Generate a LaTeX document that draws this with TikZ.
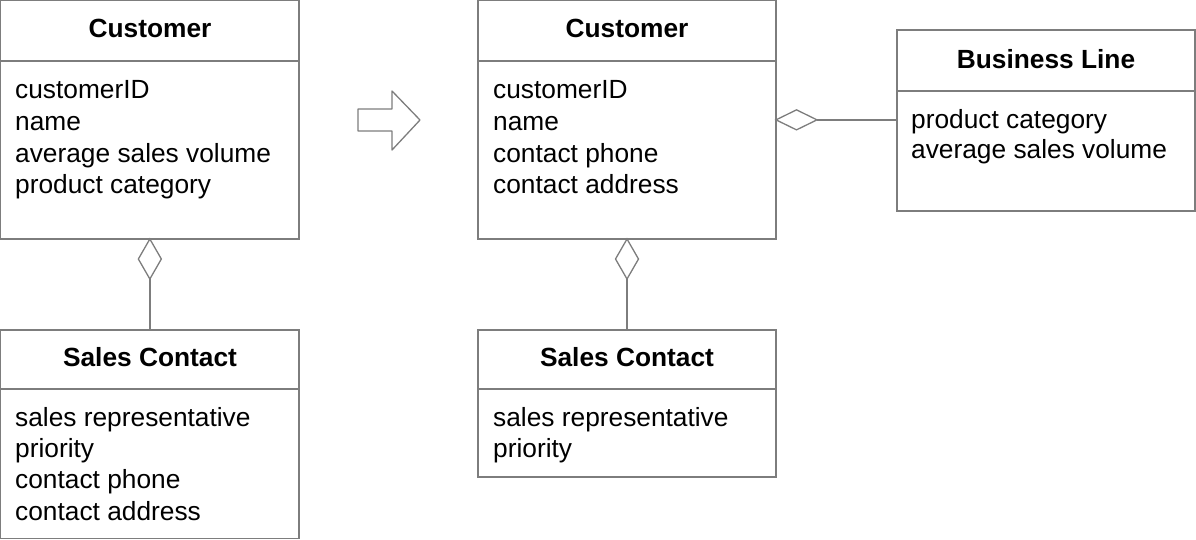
\documentclass[tikz,border=0pt]{standalone}
\usepackage{fontspec}
\setmainfont{Liberation Sans}
\usetikzlibrary{shapes.geometric}
\definecolor{linegray}{RGB}{125,125,125}
\begin{document}
\begin{tikzpicture}[x=1pt,y=-1pt,
  cls/.style={draw=linegray, line width=1.3pt, anchor=north west, inner sep=0pt, outer sep=0pt},
  hdr/.style={font=\fontsize{26.3}{31}\selectfont\bfseries, anchor=base, inner sep=0pt},
  attr/.style={font=\fontsize{26.3}{31}\selectfont, anchor=base west, inner sep=0pt},
  sep/.style={draw=linegray, line width=1.3pt},
  agg/.style={shape=diamond, draw=linegray, line width=1.3pt, fill=white, inner sep=0pt, outer sep=0pt},
  link/.style={draw=linegray, line width=1.3pt}]
\useasboundingbox (0,0) rectangle (1196,539);

% ---------- left: Customer ----------
\node[cls, minimum width=298.3pt, minimum height=238.3pt] (c1) at (0.7,0.7) {};
\draw[sep] ([yshift=-60.3pt]c1.north west) -- ([yshift=-60.3pt]c1.north east);
\node[hdr] (c1h) at (150,37) {Customer};
\node[attr] (c1a1) at (15,98) {customerID};
\node[attr] (c1a2) at (15,130) {name};
\node[attr] (c1a3) at (15,162) {average sales volume};
\node[attr] (c1a4) at (15,193) {product category};

% ---------- left: Sales Contact ----------
\node[cls, minimum width=298.3pt, minimum height=208.3pt] (s1) at (0.7,330) {};
\draw[sep] ([yshift=-59pt]s1.north west) -- ([yshift=-59pt]s1.north east);
\node[hdr] (s1h) at (150,366) {Sales Contact};
\node[attr] (s1a1) at (15,426) {sales representative};
\node[attr] (s1a2) at (15,457) {priority};
\node[attr] (s1a3) at (15,488) {contact phone};
\node[attr] (s1a4) at (15,520) {contact address};

\node[agg, minimum width=23pt, minimum height=40pt, anchor=north] (d1) at (c1.south) {};
\draw[link] (d1.south) -- (s1.north);

% ---------- transformation arrow ----------
\draw[linegray, line width=1.3pt, line join=round]
  (358,109) -- (392,109) -- (392,91) -- (420,120) -- (392,150) -- (392,131) -- (358,131) -- cycle;

% ---------- middle: Customer ----------
\node[cls, minimum width=298pt, minimum height=238.3pt] (c2) at (478,0.7) {};
\draw[sep] ([yshift=-60.3pt]c2.north west) -- ([yshift=-60.3pt]c2.north east);
\node[hdr] (c2h) at (627,37) {Customer};
\node[attr] (c2a1) at (493,98) {customerID};
\node[attr] (c2a2) at (493,130) {name};
\node[attr] (c2a3) at (493,162) {contact phone};
\node[attr] (c2a4) at (493,193) {contact address};

% ---------- middle: Sales Contact ----------
\node[cls, minimum width=298pt, minimum height=147pt] (s2) at (478,330) {};
\draw[sep] ([yshift=-59pt]s2.north west) -- ([yshift=-59pt]s2.north east);
\node[hdr] (s2h) at (627,366) {Sales Contact};
\node[attr] (s2a1) at (493,426) {sales representative};
\node[attr] (s2a2) at (493,457) {priority};

\node[agg, minimum width=23pt, minimum height=40pt, anchor=north] (d2) at (c2.south) {};
\draw[link] (d2.south) -- (s2.north);

% ---------- right: Business Line ----------
\node[cls, minimum width=298pt, minimum height=181pt] (b) at (897,30) {};
\draw[sep] ([yshift=-61pt]b.north west) -- ([yshift=-61pt]b.north east);
\node[hdr] (bh) at (1046,68) {Business Line};
\node[attr] (ba1) at (911,128) {product category};
\node[attr] (ba2) at (911,158) {average sales volume};

\node[agg, minimum width=41pt, minimum height=20pt, anchor=west] (d3) at (c2.east) {};
\draw[link] (d3.east) -- (d3.east -| b.west);
\end{tikzpicture}
\end{document}
